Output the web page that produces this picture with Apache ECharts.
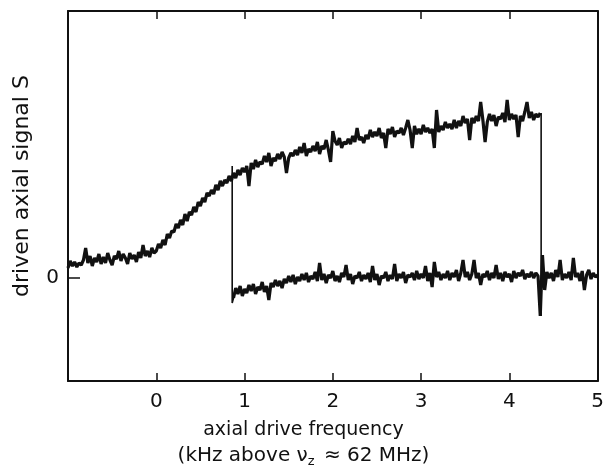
<!DOCTYPE html>
<html>
<head>
<meta charset="utf-8">
<script src="https://cdn.jsdelivr.net/npm/echarts@6/dist/echarts.min.js"></script>
<style>
  html, body { margin: 0; padding: 0; background: #fff; }
  #chart { width: 607px; height: 469px; }
</style>
</head>
<body>
<div id="chart"></div>
<script>
// sweep sampled every 0.025 kHz, signal S in arbitrary units (0 = baseline)
var step = 0.025;

// upward sweep: from -1.0 to 4.35 kHz
var upperStart = -1.0;
var upperS = [
  0.10, 0.17, 0.12, 0.16, 0.11, 0.15, 0.13, 0.18,
  0.30, 0.15, 0.22, 0.12, 0.20, 0.16, 0.24, 0.14,
  0.21, 0.15, 0.25, 0.18, 0.13, 0.22, 0.19, 0.27,
  0.17, 0.24, 0.20, 0.14, 0.25, 0.19, 0.23, 0.16,
  0.26, 0.20, 0.33, 0.22, 0.27, 0.21, 0.30, 0.25,
  0.27, 0.34, 0.30, 0.38, 0.33, 0.44, 0.40, 0.47,
  0.46, 0.54, 0.50, 0.58, 0.53, 0.64, 0.57, 0.66,
  0.63, 0.71, 0.66, 0.76, 0.72, 0.80, 0.76, 0.85,
  0.82, 0.88, 0.84, 0.93, 0.88, 0.97, 0.92, 0.98,
  0.95, 1.02, 0.97, 1.05, 1.00, 1.08, 1.03, 1.10,
  1.06, 1.12, 0.92, 1.15, 1.09, 1.18, 1.11, 1.16,
  1.14, 1.22, 1.16, 1.25, 1.12, 1.20, 1.17, 1.24,
  1.19, 1.26, 1.21, 1.05, 1.20, 1.25, 1.22, 1.28,
  1.23, 1.31, 1.25, 1.35, 1.22, 1.29, 1.26, 1.32,
  1.27, 1.36, 1.24, 1.32, 1.29, 1.38, 1.28, 1.16,
  1.47, 1.37, 1.33, 1.40, 1.30, 1.36, 1.34, 1.39,
  1.34, 1.42, 1.36, 1.50, 1.38, 1.41, 1.35, 1.43,
  1.39, 1.48, 1.41, 1.46, 1.42, 1.50, 1.40, 1.45,
  1.30, 1.49, 1.44, 1.51, 1.41, 1.47, 1.45, 1.50,
  1.43, 1.50, 1.58, 1.48, 1.30, 1.52, 1.44, 1.49,
  1.44, 1.53, 1.46, 1.50, 1.45, 1.49, 1.30, 1.68,
  1.46, 1.52, 1.48, 1.56, 1.50, 1.54, 1.49, 1.58,
  1.50, 1.57, 1.52, 1.62, 1.55, 1.59, 1.38, 1.60,
  1.55, 1.62, 1.57, 1.76, 1.58, 1.36, 1.56, 1.64,
  1.57, 1.63, 1.52, 1.61, 1.59, 1.65, 1.56, 1.78,
  1.58, 1.64, 1.59, 1.63, 1.41, 1.62, 1.57, 1.66,
  1.76, 1.60, 1.66, 1.58, 1.64, 1.61, 1.65
];
// drop to baseline at the top of the sweep
var dropX = 4.36;
var dropLow = -0.38;

// downward sweep: baseline from 0.875 to 5.0 kHz
var lowerStart = 0.875;
var lowerS = [
  -0.20, -0.10, -0.16, -0.08, -0.18, -0.11, -0.15, -0.07,
  -0.13, -0.06, -0.16, -0.09, -0.12, -0.04, -0.14, -0.08,
  -0.22, -0.05, -0.09, -0.02, -0.08, -0.03, -0.10, -0.01,
  -0.05, 0.02, -0.04, 0.03, -0.06, 0.01, -0.03, 0.04,
  -0.02, 0.05, -0.04, 0.02, -0.01, 0.06, -0.03, 0.15,
  -0.02, 0.04, -0.05, 0.03, 0.00, 0.07, -0.03, 0.02,
  -0.04, 0.05, 0.01, 0.13, -0.02, 0.04, -0.06, 0.02,
  0.00, 0.06, -0.03, 0.03, -0.01, 0.05, -0.04, 0.12,
  -0.02, 0.04, -0.07, 0.02, 0.00, 0.06, -0.03, 0.03,
  -0.01, 0.14, -0.03, 0.04, 0.00, 0.06, -0.05, 0.03,
  0.01, 0.05, -0.02, 0.07, -0.01, 0.04, 0.00, 0.12,
  -0.03, 0.05, -0.09, 0.16, 0.01, 0.06, -0.02, 0.04,
  0.00, 0.07, -0.02, 0.05, 0.01, 0.08, -0.03, 0.05,
  0.18, 0.01, 0.06, -0.02, 0.04, 0.18, 0.00, 0.05,
  -0.07, 0.04, 0.01, 0.07, -0.02, 0.05, 0.00, 0.13,
  -0.01, 0.05, -0.03, 0.06, 0.01, 0.04, -0.04, 0.07,
  0.00, 0.05, 0.02, 0.08, -0.01, 0.04, 0.01, 0.06,
  0.00, 0.05, 0.02, -0.38, 0.23, -0.12, 0.06, 0.00,
  0.05, -0.03, 0.08, 0.01, 0.18, -0.02, 0.04, 0.00,
  0.06, -0.02, 0.20, 0.01, 0.05, -0.03, 0.07, -0.12,
  0.03, 0.08, -0.01, 0.05, 0.01, 0.03
];
// jump up to the upper branch at the bottom of the sweep
var jumpX = 0.86;
var jumpHigh = 1.12;
var jumpLow = -0.25;

var xTicks = [0, 1, 2, 3, 4, 5];

var upperData = upperS.map(function (v, i) { return [upperStart + i * step, v]; });
var lowerData = lowerS.map(function (v, i) { return [lowerStart + i * step, v]; });
var dropData = [[dropX, upperS[upperS.length - 1]], [dropX, dropLow]];
var jumpData = [[jumpX, jumpHigh], [jumpX, jumpLow], [lowerStart, lowerS[0]]];

var font = 'DejaVu Sans';
var ink = '#111';

var chart = echarts.init(document.getElementById('chart'));
var option = {
  backgroundColor: '#fff',
  animation: false,
  grid: { left: 68, right: 9, top: 11, bottom: 88 },
  xAxis: [{
    type: 'value',
    min: -1,
    max: 5,
    interval: 1,
    axisLine: { onZero: false, lineStyle: { color: ink, width: 2 } },
    axisTick: { inside: true, length: 8, lineStyle: { color: ink, width: 1.5 } },
    axisLabel: {
      margin: 11,
      color: ink,
      fontFamily: font,
      fontSize: 20,
      formatter: function (v) { return xTicks.indexOf(v) >= 0 ? String(v) : ''; }
    },
    splitLine: { show: false }
  }, {
    type: 'value',
    position: 'top',
    min: -1,
    max: 5,
    interval: 1,
    axisLine: { onZero: false, lineStyle: { color: ink, width: 2 } },
    axisTick: { inside: true, length: 8, lineStyle: { color: ink, width: 1.5 } },
    axisLabel: { show: false },
    splitLine: { show: false }
  }],
  yAxis: [{
    type: 'value',
    min: -1.03,
    max: 2.67,
    axisLine: { show: true, onZero: false, lineStyle: { color: ink, width: 2 } },
    axisTick: { show: true, inside: true, length: 12, customValues: [0], lineStyle: { color: ink, width: 1.5 } },
    axisLabel: { customValues: [0], margin: 9, color: ink, fontFamily: font, fontSize: 20 },
    splitLine: { show: false }
  }, {
    type: 'value',
    position: 'right',
    min: -1.03,
    max: 2.67,
    axisLine: { show: true, onZero: false, lineStyle: { color: ink, width: 2 } },
    axisTick: { show: false },
    axisLabel: { show: false },
    splitLine: { show: false }
  }],
  graphic: [{
    type: 'text',
    left: 'center',
    top: 421,
    style: {
      text: 'axial drive frequency',
      fill: ink,
      font: '19px "DejaVu Sans"'
    }
  }, {
    type: 'text',
    left: 'center',
    top: 446,
    style: {
      text: '{a|(kHz above ν}{s|z}{a| ≈ 62 MHz)}',
      rich: {
        a: { fontFamily: font, fontSize: 20, fill: ink, color: ink },
        s: { fontFamily: font, fontSize: 13, fill: ink, color: ink, padding: [11, 3, 0, 0] }
      }
    }
  }, {
    type: 'text',
    x: 22,
    y: 186,
    rotation: Math.PI / 2,
    style: {
      text: 'driven axial signal S',
      fill: ink,
      font: '22px "DejaVu Sans"',
      align: 'center',
      verticalAlign: 'middle'
    }
  }],
  series: [{
    name: 'upward sweep',
    type: 'line',
    data: upperData,
    showSymbol: false,
    lineStyle: { color: ink, width: 3.2 }
  }, {
    name: 'downward sweep',
    type: 'line',
    data: lowerData,
    showSymbol: false,
    lineStyle: { color: ink, width: 3.2 }
  }, {
    name: 'drop',
    type: 'line',
    data: dropData,
    showSymbol: false,
    lineStyle: { color: ink, width: 1.6 }
  }, {
    name: 'jump',
    type: 'line',
    data: jumpData,
    showSymbol: false,
    lineStyle: { color: ink, width: 1.6 }
  }]
};
chart.setOption(option);
</script>
</body>
</html>
